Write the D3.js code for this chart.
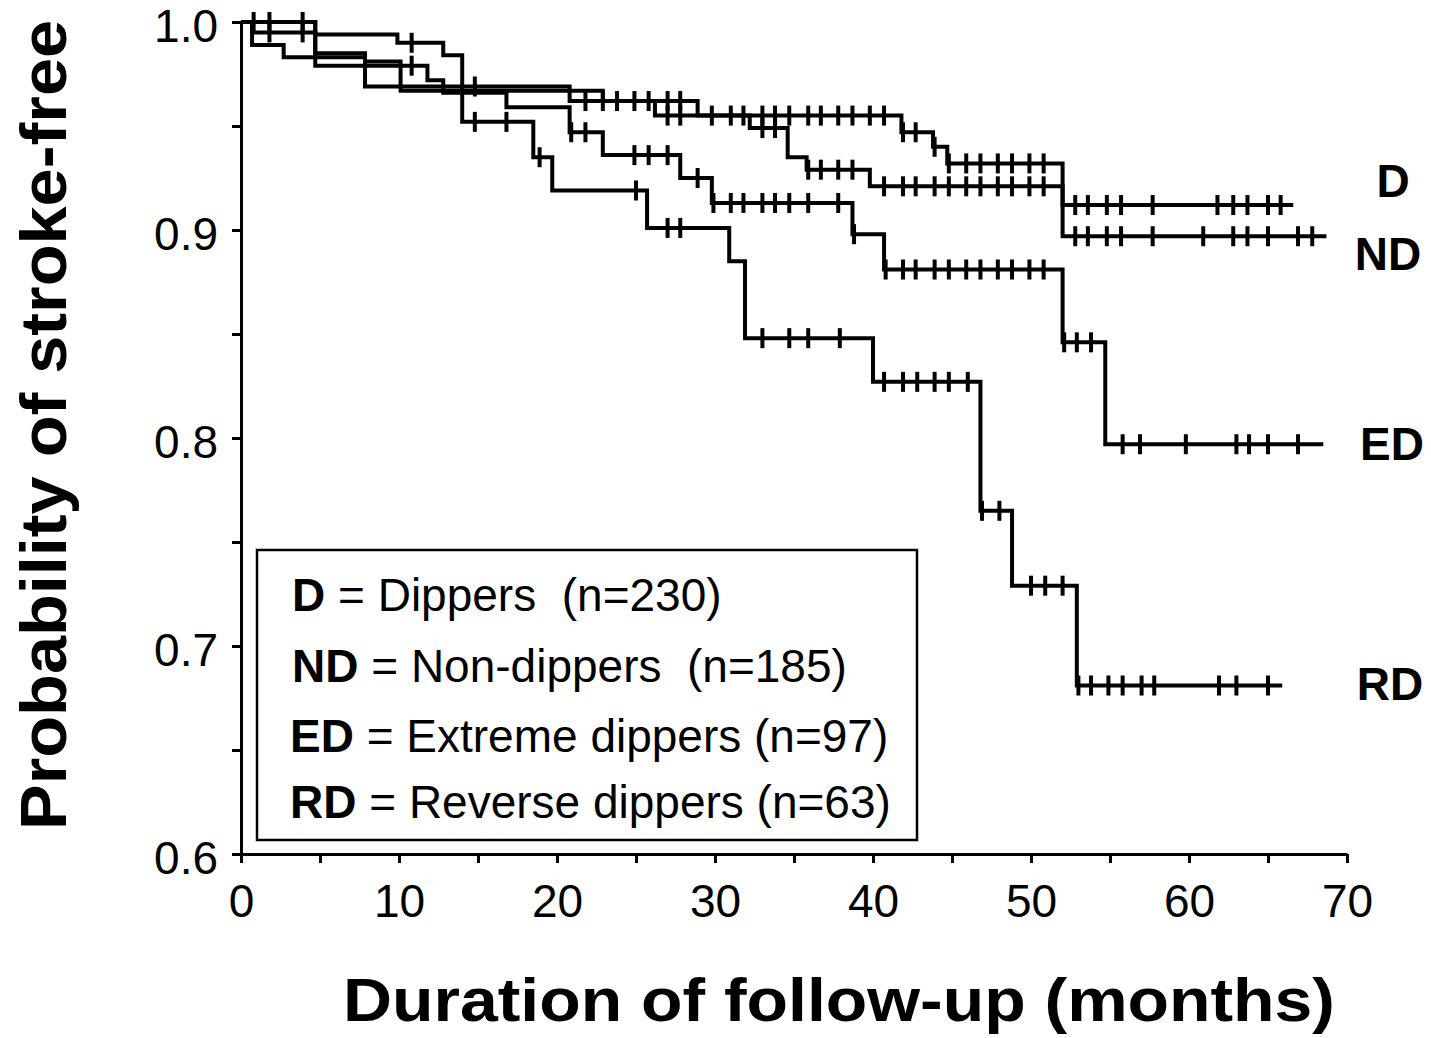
<!DOCTYPE html>
<html>
<head>
<meta charset="utf-8">
<script src="https://cdn.jsdelivr.net/npm/d3@7"></script>
<style>
	body{margin:0;background:#fff;}
	text{font-family:"Liberation Sans", Arial, sans-serif;fill:#000;}
</style>
</head>
<body>
<svg id="chart" width="1431" height="1038"></svg>
<script>

// ticks
const xTicks = [0, 5, 10, 15, 20, 25, 30, 35, 40, 45, 50, 55, 60, 65, 70];
const xTickLabels = [0, 10, 20, 30, 40, 50, 60, 70];
const yTicks = [0.6, 0.65, 0.7, 0.75, 0.8, 0.85, 0.9, 0.95, 1.0];
const yTickLabels = [0.6, 0.7, 0.8, 0.9, 1.0];

// groups
const groups = ["D", "ND", "ED", "RD"];
const groupNames = ["Dippers", "Non-dippers", "Extreme dippers", "Reverse dippers"];
const groupN = [230, 185, 97, 63];

// step times (months) and survival after each step
const dTimes = [0.7, 4.7, 7.85, 10.1, 22.9, 26.2, 41.8, 43.8, 44.7, 52.0];
const dSurv  = [0.995, 0.985, 0.981, 0.967, 0.962, 0.955, 0.947, 0.940, 0.932, 0.912];
const dCensor = [1.8, 3.9, 23.8, 24.9, 25.8, 27.0, 27.8, 29.8, 31.0, 31.8, 33.0, 33.8, 34.7, 35.9, 36.7, 37.8, 38.7, 39.8, 40.7,
	41.9, 42.7, 43.9, 44.8, 45.9, 46.8, 47.9, 48.8, 49.9, 50.8, 52.8, 53.6, 54.8, 55.7, 57.7, 61.8, 62.8, 63.7, 65.0, 65.8];
const dEnd = 66.6;

const ndTimes = [0.7, 2.7, 7.85, 20.8, 28.9, 32.2, 34.6, 35.8, 39.8, 52.0];
const ndSurv  = [0.989, 0.983, 0.969, 0.962, 0.955, 0.949, 0.935, 0.929, 0.921, 0.897];
const ndCensor = [14.8, 21.8, 22.9, 27.0, 27.8, 33.0, 33.8, 35.9, 36.7, 37.8, 38.7, 40.7, 41.9, 42.7, 43.9, 44.8, 45.9, 46.8,
	47.9, 48.8, 49.9, 50.8, 52.8, 53.6, 54.8, 55.7, 57.7, 60.9, 62.8, 63.7, 65.0, 66.9, 67.8];
const ndEnd = 68.7;

const edTimes = [4.7, 11.8, 12.8, 16.8, 20.8, 22.9, 27.8, 29.8, 38.7, 40.7, 52.0, 54.7];
const edSurv  = [0.979, 0.972, 0.966, 0.959, 0.947, 0.936, 0.925, 0.913, 0.898, 0.881, 0.846, 0.797];
const edCensor = [10.8, 20.9, 21.8, 24.9, 25.8, 27.0, 28.9, 29.9, 31.0, 31.8, 33.0, 33.8, 34.7, 35.9, 37.8, 38.8, 40.8, 41.9,
	42.7, 43.9, 44.8, 45.9, 46.8, 47.9, 48.8, 49.9, 50.8, 52.1, 52.9, 53.8, 55.8, 56.9, 59.8, 63.0, 63.8, 65.0, 66.9];
const edEnd = 68.5;

const rdTimes = [4.7, 9.9, 12.8, 14.0, 18.5, 19.7, 25.7, 30.9, 31.9, 40.0, 46.8, 48.8, 52.9];
const rdSurv  = [0.994, 0.990, 0.984, 0.952, 0.935, 0.919, 0.901, 0.885, 0.848, 0.827, 0.765, 0.729, 0.681];
const rdCensor = [0.8, 1.8, 3.9, 10.8, 14.8, 16.8, 18.9, 25.0, 27.0, 27.8, 33.0, 34.7, 35.9, 37.9, 40.7, 41.9, 42.8, 43.9,
	44.8, 46.0, 46.9, 48.0, 50.0, 50.9, 52.0, 53.0, 53.8, 54.9, 55.8, 57.0, 57.8, 61.9, 63.0, 65.0];
const rdEnd = 65.9;


let curves = [
	{id: "D",  times: dTimes,  surv: dSurv,  censor: dCensor,  end: dEnd},
	{id: "ND", times: ndTimes, surv: ndSurv, censor: ndCensor, end: ndEnd},
	{id: "ED", times: edTimes, surv: edSurv, censor: edCensor, end: edEnd},
	{id: "RD", times: rdTimes, surv: rdSurv, censor: rdCensor, end: rdEnd}
];

let svg = d3.select("#chart");

let x = d3.scaleLinear().domain([0, 70]).range([241, 1347]);
let y = d3.scaleLinear().domain([0.6, 1.0]).range([854, 22]);

function survAt(c, d){
	let s = 1;
	d.times.forEach((t, i)=>{ if(t <= c) s = d.surv[i]; });
	return s;
}

/* ***Axes*** */
let xAxis = d3.axisBottom(x)
	.tickValues(xTicks)
	.tickSize(9)
	.tickSizeOuter(0)
	.tickPadding(21)
	.tickFormat(d => xTickLabels.includes(d) ? d : "");

let yAxis = d3.axisLeft(y)
	.tickValues(yTicks)
	.tickSize(9)
	.tickSizeOuter(0)
	.tickPadding(14)
	.tickFormat(d => yTickLabels.some(v => Math.abs(v - d) < 1e-9) ? d3.format(".1f")(d) : "");

svg.append("g")
	.attr("class", "x-axis")
	.attr("transform", `translate(0,${y(0.6)})`)
	.call(xAxis);

svg.append("g")
	.attr("class", "y-axis")
	.attr("transform", `translate(${x(0)},0)`)
	.call(yAxis);

svg.selectAll(".x-axis path, .y-axis path, .x-axis line, .y-axis line")
	.attr("stroke", "#000")
	.attr("stroke-width", 3);

svg.selectAll(".x-axis text, .y-axis text")
	.attr("font-size", 46)
	.attr("font-family", "'Liberation Sans', Arial, sans-serif")
	.attr("fill", "#000");

svg.selectAll(".y-axis text")
	.attr("dy", "0.42em");

/* ***Curves*** */
let line = d3.line()
	.x(d => x(d[0]))
	.y(d => y(d[1]))
	.curve(d3.curveStepAfter);

let g = svg.selectAll("g.curve")
	.data(curves)
	.enter()
	.append("g")
	.attr("class", "curve");

g.append("path")
	.attr("d", d => {
		let pts = [[0, 1]].concat(d.times.map((t, i) => [t, d.surv[i]]));
		pts.push([d.end, d.surv[d.surv.length - 1]]);
		return line(pts);
	})
	.attr("fill", "none")
	.attr("stroke", "#000")
	.attr("stroke-width", 4);

g.selectAll("line.cens")
	.data(d => d.censor.map(c => ({t: c, s: survAt(c, d)})))
	.enter()
	.append("line")
	.attr("class", "cens")
	.attr("x1", d => x(d.t))
	.attr("x2", d => x(d.t))
	.attr("y1", d => y(d.s) - 10)
	.attr("y2", d => y(d.s) + 10)
	.attr("stroke", "#000")
	.attr("stroke-width", 4);

/* ***Group labels at right*** */
let labelY = [197, 270, 460, 700];
let labelX = [1393, 1388, 1392, 1390];
svg.selectAll("text.grp")
	.data(groups)
	.enter()
	.append("text")
	.attr("class", "grp")
	.attr("x", (d, i) => labelX[i])
	.attr("y", (d, i) => labelY[i])
	.attr("text-anchor", "middle")
	.attr("font-size", 46)
	.attr("font-weight", "bold")
	.text(d => d);

/* ***Legend*** */
svg.append("rect")
	.attr("x", 257)
	.attr("y", 550)
	.attr("width", 660)
	.attr("height", 290)
	.attr("fill", "#fff")
	.attr("stroke", "#000")
	.attr("stroke-width", 2.5);

let legendY = [611, 682, 752, 818];
let legendX = [292, 292, 290, 290];
let gaps = ["  ", "  ", " ", " "];

let lt = svg.selectAll("text.leg")
	.data(groups)
	.enter()
	.append("text")
	.attr("class", "leg")
	.attr("x", (d, i) => legendX[i])
	.attr("y", (d, i) => legendY[i])
	.attr("font-size", 46)
	.style("white-space", "pre");

lt.append("tspan")
	.attr("font-weight", "bold")
	.text(d => d);

lt.append("tspan")
	.text((d, i) => ` = ${groupNames[i]}${gaps[i]}(n=${groupN[i]})`);

/* ***Axis titles*** */
svg.append("text")
	.attr("x", 839)
	.attr("y", 1021)
	.attr("text-anchor", "middle")
	.attr("font-size", 62)
	.attr("font-weight", "bold")
	.attr("textLength", 992)
	.attr("lengthAdjust", "spacingAndGlyphs")
	.text("Duration of follow-up (months)");

svg.append("text")
	.attr("transform", "translate(66,425) rotate(-90)")
	.attr("text-anchor", "middle")
	.attr("font-size", 64)
	.attr("font-weight", "bold")
	.attr("textLength", 810)
	.attr("lengthAdjust", "spacingAndGlyphs")
	.text("Probability of stroke-free");

</script>
</body>
</html>
